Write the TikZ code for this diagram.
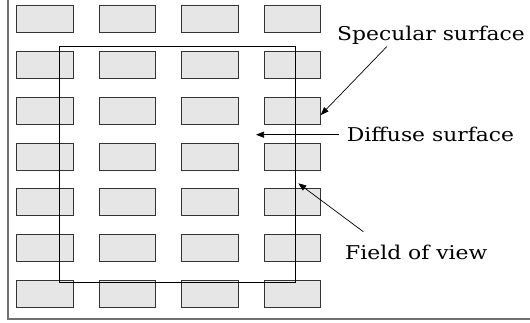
\documentclass[tikz,border=0pt]{standalone}
\usepackage{fontspec}
\setmainfont{DejaVu Serif}[FakeStretch=1.15]
\usetikzlibrary{arrows.meta}
\definecolor{tilefill}{HTML}{E6E6E6}
\definecolor{tileedge}{HTML}{333333}
\definecolor{framegray}{HTML}{707070}
\begin{document}
\begin{tikzpicture}[x=1pt,y=-1pt,
  tile/.style={draw=tileedge,fill=tilefill,line width=1pt,minimum width=56.5pt,minimum height=27pt,inner sep=0pt,outer sep=0pt},
  fovbox/.style={draw=black,line width=1.5pt,minimum width=236.2pt,minimum height=235.6pt,inner sep=0pt,outer sep=0pt},
  label/.style={font=\fontsize{19}{22}\selectfont,inner sep=0pt,anchor=base west},
  pointer/.style={-{Triangle[length=8pt,width=6pt]},line width=0.7pt}]
\useasboundingbox (0,0) rectangle (530,323);
\draw[framegray,line width=1.6pt] (8,-3) -- (8,319) -- (533,319);
\foreach \r in {1,...,7}{
  \foreach \c in {1,...,4}{
    \node[tile] (r-\r-\c) at ({45+82.5*(\c-1)},{19.5+45.75*(\r-1)}) {};
  }
}
\node[fovbox] (fov) at (177.6,164.5) {};
\node[label] (spec) at (337,41) {Specular surface};
\node[label] (diff) at (346.7,141.7) {Diffuse surface};
\node[label] (field) at (345,259.3) {Field of view};
\coordinate (specstart) at (386.7,46.7);
\coordinate (diffend) at (256,134.7);
\coordinate (fieldstart) at (363.3,231.7);
\coordinate (fieldend) at (298.3,183.3);
\draw[pointer] (specstart) -- ([yshift=-4pt]r-3-4.east);
\draw[pointer] (diff.west |- diffend) ++(-8pt,0) -- (diffend);
\draw[pointer] (fieldstart) -- (fieldend);
\end{tikzpicture}
\end{document}
